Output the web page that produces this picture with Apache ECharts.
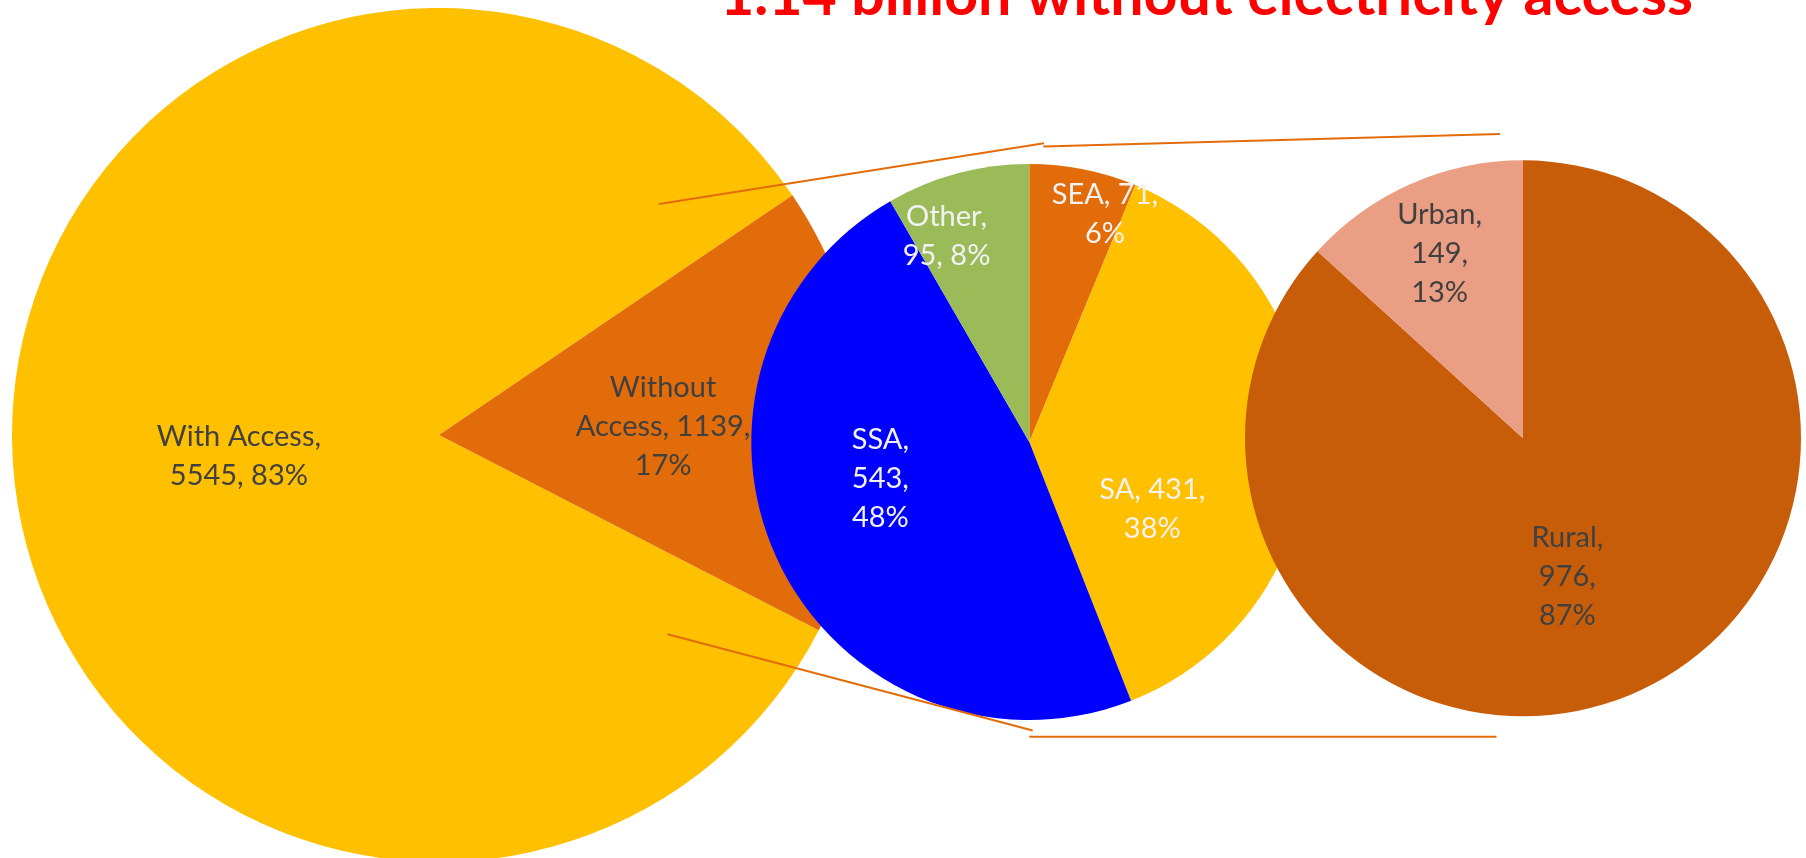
<!DOCTYPE html>
<html>
<head>
<meta charset="utf-8">
<title>Electricity access</title>
<script src="https://cdn.jsdelivr.net/npm/echarts@6/dist/echarts.min.js"></script>
<style>
html, body { margin: 0; padding: 0; background: #fff; }
#main { width: 1806px; height: 858px; }
</style>
</head>
<body>
<div id="main"></div>
<script>
// population in millions, with / without electricity
var accessNames = ['With Access', 'Without Access'];
var accessValues = [5545, 1139];

// people without access, by region
var regionNames = ['SEA', 'SA', 'SSA', 'Other'];
var regionValues = [71, 431, 543, 95];

// people without access, rural / urban
var areaNames = ['Rural', 'Urban'];
var areaValues = [976, 149];

var titleText = '1.14 billion without electricity access';

var FONT = 'Lato, "Open Sans", "Noto Sans", sans-serif';

var colors = {
  'With Access': '#FFC000', 'Without Access': '#E36C0A',
  'SEA': '#E36C0A', 'SA': '#FFC000', 'SSA': '#0000FF', 'Other': '#9BBB59',
  'Rural': '#C85D09', 'Urban': '#EA9E84'
};
// how each label wraps, like in the original slide
var labelFormats = {
  'With Access': '{b},\n{c}, {d}%',
  'Without Access': 'Without\nAccess, {c},\n{d}%',
  'SEA': '{b}, {c},\n{d}%',
  'SA': '{b}, {c},\n{d}%',
  'SSA': '{b},\n{c},\n{d}%',
  'Other': '{b},\n{c}, {d}%',
  'Rural': '{b},\n{c},\n{d}%',
  'Urban': '{b},\n{c},\n{d}%'
};
// nudges from the default "inside" spot
var labelOffsets = {
  'With Access': [16, 8], 'Without Access': [8, 5],
  'SEA': [48, -89], 'SA': [-19, 66], 'SSA': [-21, -25], 'Other': [-46, -69],
  'Rural': [-13, 8], 'Urban': [-26, -55]
};

function buildData(names, values) {
  return names.map(function (n, i) {
    return {
      name: n,
      value: values[i],
      itemStyle: { color: colors[n] },
      label: { formatter: labelFormats[n], offset: labelOffsets[n] }
    };
  });
}

function pieSeries(names, values, center, radius, startAngle, textColor, z) {
  return {
    type: 'pie',
    z: z,
    center: center,
    radius: radius,
    startAngle: startAngle,
    clockwise: true,
    percentPrecision: 0,
    avoidLabelOverlap: false,
    silent: true,
    itemStyle: { borderWidth: 0 },
    label: {
      show: true,
      position: 'inside',
      color: textColor,
      fontFamily: FONT,
      fontSize: 29,
      lineHeight: 39,
      align: 'center'
    },
    labelLine: { show: false },
    emphasis: { disabled: true },
    data: buildData(names, values)
  };
}

// fit the title to the width it has on the slide
var ctx = document.createElement('canvas').getContext('2d');
ctx.font = 'bold 100px ' + FONT;
var titleSize = 100 * 973 / ctx.measureText(titleText).width;

var lineColor = '#E36C0A';
var connectors = [
  [659, 204, 1044, 143.3],
  [1043.3, 146.5, 1500, 134],
  [667.6, 634.3, 1032.7, 730.5],
  [1029.3, 736.7, 1496.5, 736.7]
];

var chart = echarts.init(document.getElementById('main'));
chart.setOption({
  animation: false,
  backgroundColor: '#fff',
  series: [
    pieSeries(accessNames, accessValues, [439, 435], 427, -27.2, '#404040', 1),
    pieSeries(regionNames, regionValues, [1029.3, 442], 278, 90, '#F2F2F2', 2),
    pieSeries(areaNames, areaValues, [1523, 438.3], 278, 90, '#404040', 3)
  ],
  graphic: connectors.map(function (c) {
    return {
      type: 'line',
      z: 20,
      silent: true,
      shape: { x1: c[0], y1: c[1], x2: c[2], y2: c[3] },
      style: { stroke: lineColor, lineWidth: 2 }
    };
  }).concat([{
    type: 'text',
    z: 20,
    x: 720,
    y: 17 - 0.36 * titleSize,
    silent: true,
    style: {
      text: titleText,
      font: 'bold ' + titleSize.toFixed(1) + 'px ' + FONT,
      fill: '#FF0000',
      align: 'left',
      verticalAlign: 'middle'
    }
  }])
});
</script>
</body>
</html>
